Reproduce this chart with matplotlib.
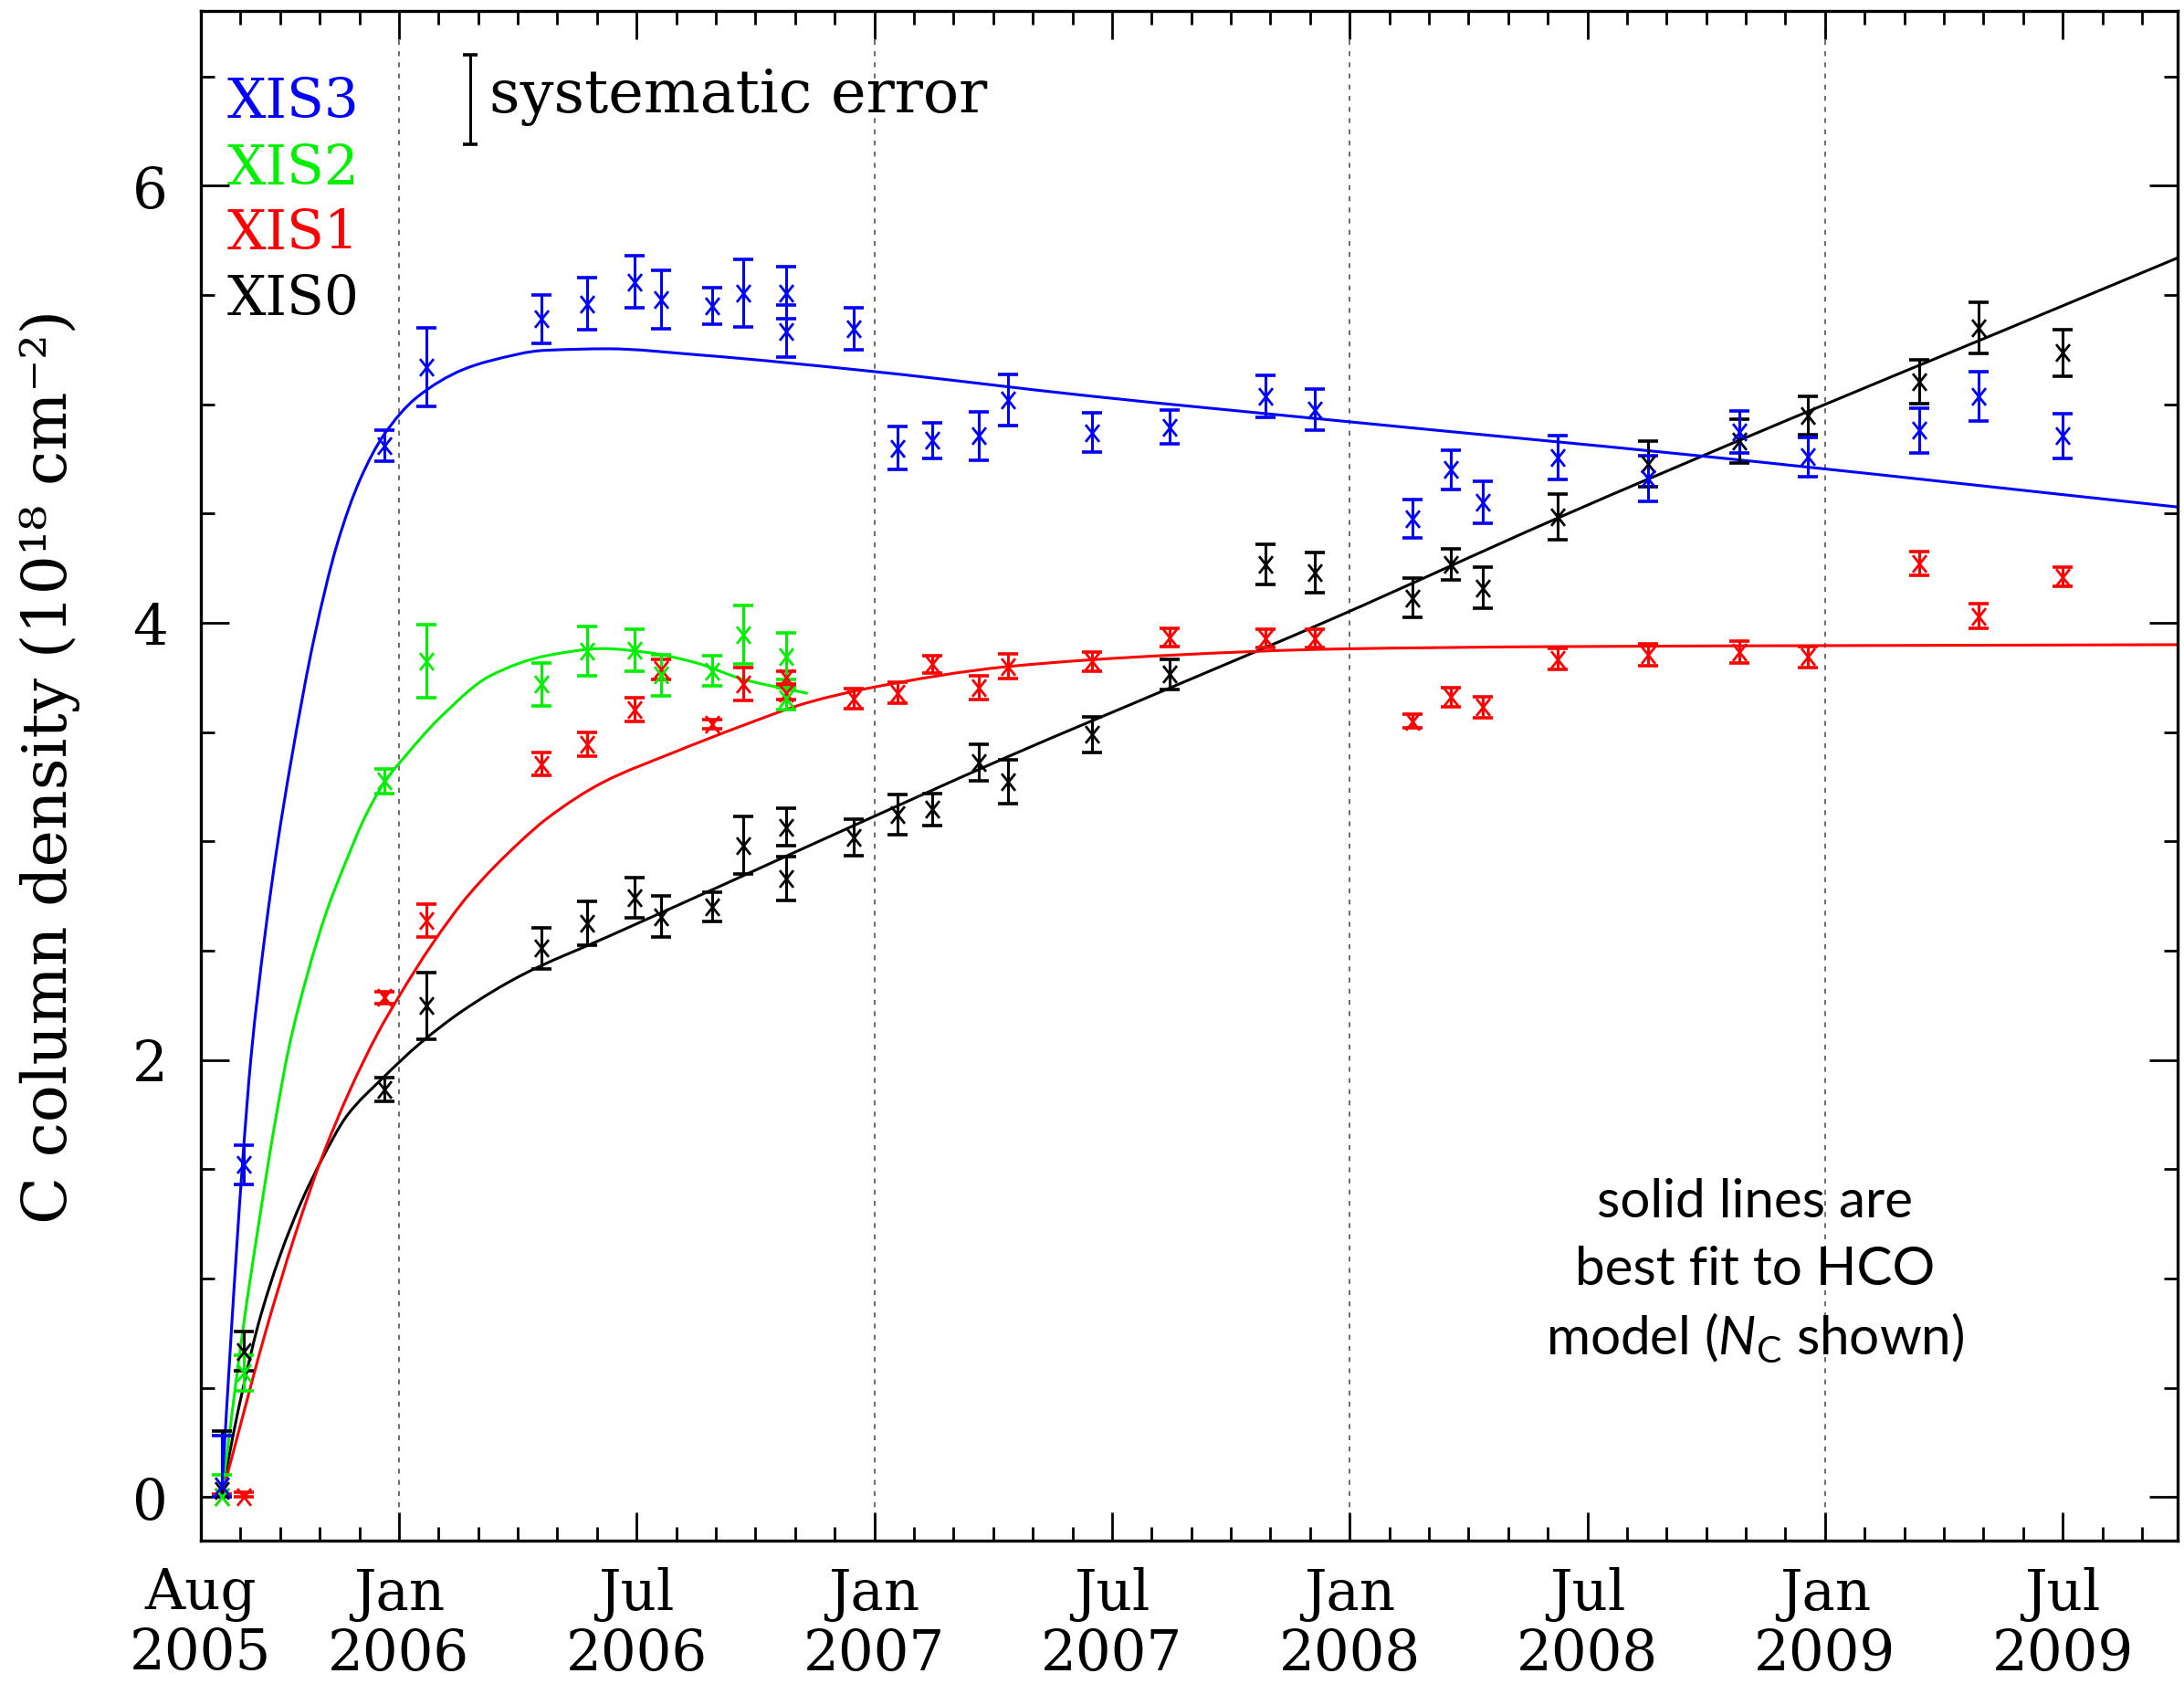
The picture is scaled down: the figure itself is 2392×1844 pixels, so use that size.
import numpy as np
import matplotlib
matplotlib.use("Agg")
import matplotlib.pyplot as plt
from matplotlib.path import Path
from matplotlib.patches import PathPatch

plt.rcParams['font.family'] = ['DejaVu Serif', 'DejaVu Sans']
plt.rcParams['mathtext.fontset'] = 'custom'
plt.rcParams['mathtext.rm'] = 'Lato'
plt.rcParams['mathtext.it'] = 'Lato:italic'

# ---------------- data (time in months since 2005 Aug 1) ----------------
# XIS0 (black)
t_xis0 = [0.52, 1.08, 4.63, 5.69, 8.59, 9.74, 10.94, 11.61, 12.90, 13.70, 14.77, 14.77,
          16.49, 17.58, 18.46, 19.64, 20.38, 22.49, 24.46, 26.88, 28.11, 30.58, 31.55,
          32.36, 34.25, 36.54, 38.84, 40.57, 43.38, 44.88, 46.99]
v_xis0 = [0.03, 0.666, 1.865, 2.248, 2.511, 2.626, 2.742, 2.656, 2.699, 2.982, 3.065, 2.83,
          3.019, 3.123, 3.147, 3.36, 3.273, 3.489, 3.764, 4.269, 4.23, 4.113, 4.268,
          4.16, 4.485, 4.727, 4.83, 4.948, 5.104, 5.35, 5.235]
e_xis0 = [0.27, 0.09, 0.055, 0.153, 0.093, 0.10, 0.093, 0.093, 0.067, 0.13, 0.085, 0.10,
          0.084, 0.093, 0.073, 0.084, 0.10, 0.082, 0.07, 0.092, 0.093, 0.09, 0.07,
          0.094, 0.105, 0.106, 0.10, 0.087, 0.10, 0.118, 0.106]

# XIS1 (red)
t_xis1 = [0.52, 1.08, 4.63, 5.69, 8.59, 9.74, 10.94, 11.61, 12.90, 13.70, 14.77, 14.77,
          16.49, 17.58, 18.46, 19.64, 20.38, 22.49, 24.46, 26.88, 28.11, 30.58, 31.55,
          32.36, 34.25, 36.54, 38.84, 40.57, 43.38, 44.88, 46.99]
v_xis1 = [0.0, 0.0, 2.285, 2.636, 3.354, 3.444, 3.604, 3.787, 3.537, 3.72, 3.75, 3.68,
          3.653, 3.68, 3.81, 3.705, 3.80, 3.823, 3.932, 3.93, 3.93, 3.55, 3.66,
          3.615, 3.834, 3.855, 3.865, 3.844, 4.273, 4.03, 4.21]
e_xis1 = [0.015, 0.02, 0.028, 0.075, 0.053, 0.056, 0.054, 0.045, 0.02, 0.074, 0.028, 0.03,
          0.045, 0.047, 0.04, 0.054, 0.056, 0.044, 0.041, 0.042, 0.042, 0.032, 0.044,
          0.048, 0.049, 0.05, 0.05, 0.047, 0.054, 0.056, 0.043]

# XIS2 (green)
t_xis2 = [0.52, 1.08, 4.63, 5.69, 8.59, 9.74, 10.94, 11.61, 12.90, 13.70, 14.77, 14.77]
v_xis2 = [0.0, 0.567, 3.275, 3.824, 3.719, 3.87, 3.875, 3.76, 3.78, 3.947, 3.847, 3.655]
e_xis2 = [0.10, 0.083, 0.058, 0.166, 0.098, 0.113, 0.095, 0.095, 0.07, 0.134, 0.107, 0.05]

# XIS3 (blue)
t_xis3 = [0.52, 1.08, 4.63, 5.69, 8.59, 9.74, 10.94, 11.61, 12.90, 13.70, 14.77, 14.77,
          16.49, 17.58, 18.46, 19.64, 20.38, 22.49, 24.46, 26.88, 28.11, 30.58, 31.55,
          32.36, 34.25, 36.54, 38.84, 40.57, 43.38, 44.88, 46.99]
v_xis3 = [0.05, 1.52, 4.81, 5.17, 5.39, 5.46, 5.56, 5.48, 5.45, 5.51, 5.51, 5.335,
          5.345, 4.80, 4.835, 4.855, 5.02, 4.87, 4.895, 5.035, 4.975, 4.475, 4.70,
          4.55, 4.755, 4.66, 4.873, 4.76, 4.88, 5.037, 4.855]
e_xis3 = [0.23, 0.09, 0.07, 0.18, 0.11, 0.12, 0.12, 0.135, 0.085, 0.155, 0.12, 0.12,
          0.095, 0.10, 0.082, 0.11, 0.117, 0.09, 0.077, 0.096, 0.095, 0.088, 0.088,
          0.096, 0.10, 0.103, 0.096, 0.09, 0.102, 0.113, 0.102]

# best-fit HCO model curves
fit_t_xis0 = [0.52, 0.80, 1.08, 1.45, 2.0, 2.54, 3.07, 3.69, 4.61, 5.53, 6.61, 8.07, 10.29,
              12.94, 15.6, 20.38, 24.5, 28.61, 34.12, 40.04, 45.32, 49.9]
fit_v_xis0 = [0.0, 0.27, 0.51, 0.79, 1.105, 1.352, 1.55, 1.745, 1.92, 2.075, 2.225, 2.385, 2.565,
              2.781, 3.0, 3.388, 3.705, 4.022, 4.469, 4.927, 5.324, 5.67]
fit_t_xis1 = [0.52, 1.0, 1.61, 2.38, 3.07, 3.76, 4.46, 5.0, 5.84, 6.76, 8.07, 8.74, 10.15,
              11.91, 13.68, 15.32, 16.83, 20.38, 24.5, 28.61, 34.12, 49.9]
fit_v_xis1 = [0.0, 0.33, 0.74, 1.20, 1.56, 1.86, 2.12, 2.29, 2.53, 2.755, 3.0, 3.105, 3.27,
              3.405, 3.53, 3.635, 3.70, 3.80, 3.852, 3.88, 3.891, 3.90]
fit_t_xis2 = [0.52, 1.08, 1.46, 1.85, 2.23, 2.69, 3.16, 3.69, 4.16, 4.65, 5.16, 6.03, 7.33,
              8.74, 10.15, 11.32, 12.5, 13.68, 15.32]
fit_v_xis2 = [0.0, 0.79, 1.25, 1.69, 2.062, 2.392, 2.672, 2.92, 3.118, 3.275, 3.39, 3.565, 3.76,
              3.85, 3.882, 3.863, 3.817, 3.742, 3.677]
fit_t_xis3 = [0.52, 0.78, 1.04, 1.27, 1.61, 1.92, 2.27, 2.86, 3.44, 4.03, 4.62, 5.44, 6.62,
              7.28, 8.69, 10.27, 12.57, 16.98, 22.44, 28.99, 37.84, 49.9]
fit_v_xis3 = [0.0, 0.79, 1.50, 2.02, 2.56, 2.97, 3.36, 3.93, 4.36, 4.66, 4.86, 5.03, 5.159,
              5.198, 5.247, 5.254, 5.226, 5.15, 5.038, 4.92, 4.764, 4.53]

# systematic error bar
syst_t = 6.80
syst_v = 6.395
syst_e = 0.205

major_ticks = [0, 5, 11, 17, 23, 29, 35, 41, 47]
major_labels = ['Aug\n2005', 'Jan\n2006', 'Jul\n2006', 'Jan\n2007', 'Jul\n2007',
                'Jan\n2008', 'Jul\n2008', 'Jan\n2009', 'Jul\n2009']
jan_lines = [5, 17, 29, 41]

series = [
    ('XIS0', t_xis0, v_xis0, e_xis0, fit_t_xis0, fit_v_xis0, '#000000'),
    ('XIS1', t_xis1, v_xis1, e_xis1, fit_t_xis1, fit_v_xis1, '#ff0000'),
    ('XIS2', t_xis2, v_xis2, e_xis2, fit_t_xis2, fit_v_xis2, '#00ee00'),
    ('XIS3', t_xis3, v_xis3, e_xis3, fit_t_xis3, fit_v_xis3, '#0000ff'),
]


def smooth_path(x, y):
    """Bezier path through the read points (monotone Hermite tangents)."""
    x = np.asarray(x, float)
    y = np.asarray(y, float)
    h = np.diff(x)
    d = np.diff(y) / h
    m = np.zeros_like(y)
    m[0], m[-1] = d[0], d[-1]
    for k in range(1, len(x) - 1):
        if d[k - 1] * d[k] <= 0:
            m[k] = 0.0
        else:
            w1 = 2 * h[k] + h[k - 1]
            w2 = h[k] + 2 * h[k - 1]
            m[k] = (w1 + w2) / (w1 / d[k - 1] + w2 / d[k])
    verts = [(x[0], y[0])]
    codes = [Path.MOVETO]
    for k in range(len(x) - 1):
        verts += [(x[k] + h[k] / 3, y[k] + m[k] * h[k] / 3),
                  (x[k + 1] - h[k] / 3, y[k + 1] - m[k + 1] * h[k] / 3),
                  (x[k + 1], y[k + 1])]
        codes += [Path.CURVE4] * 3
    return Path(verts, codes)


# ---------------- figure ----------------
fig = plt.figure(figsize=(23.92, 18.44), dpi=100)
ax = fig.add_axes([220/2392, 1 - 1687/1844, (2385-220)/2392, (1687-12)/1844])

xmark = Path([(-0.8, -1), (0.8, 1), (-0.8, 1), (0.8, -1)],
             [Path.MOVETO, Path.LINETO, Path.MOVETO, Path.LINETO])

for xv in jan_lines:
    ax.axvline(xv, color='#444444', lw=1.1, dashes=(3.5, 4.5), zorder=1)

for name, t, v, e, ft, fv, col in series:
    ax.add_patch(PathPatch(smooth_path(ft, fv), fill=False, edgecolor=col,
                           lw=2.2, zorder=2, clip_on=True))
    va = np.array(v)
    ea = np.array(e)
    yerr = np.vstack([np.minimum(ea, va), ea])
    ax.errorbar(t, va, yerr=yerr, fmt='none', ecolor=col, elinewidth=2.2,
                capsize=8, capthick=2.6, zorder=3)
    ax.plot(t, va, linestyle='none', marker=xmark, ms=13.5, mew=2.0,
            mec=col, mfc='none', zorder=4)

ax.errorbar([syst_t], [syst_v], yerr=[syst_e], fmt='none', ecolor='black',
            elinewidth=2.2, capsize=6, capthick=2.6)

ax.set_xlim(0, 49.9)
ax.set_ylim(-0.2, 6.8)
ax.set_xticks(major_ticks)
ax.set_xticklabels(major_labels, linespacing=1.1)
ax.set_xticks(np.arange(0, 50, 1), minor=True)
ax.set_yticks([0, 2, 4, 6])
ax.set_yticklabels(['0', '2', '4', '6'])
ax.set_yticks(np.arange(0, 6.9, 0.5), minor=True)
ax.tick_params(which='both', direction='in', top=True, right=True, width=2.0,
               labelsize=44)
ax.tick_params(which='major', length=22)
ax.tick_params(which='minor', length=11)
ax.tick_params(axis='x', which='major', pad=21)
ax.tick_params(axis='y', which='major', pad=26)
for s in ax.spines.values():
    s.set_linewidth(2.4)

fig.text(55/2392, 1 - 839/1844, 'C column density (10¹⁸ cm⁻²)', rotation=90,
         ha='center', va='center', fontsize=49)

# legend-like labels
leg = [('XIS3', '#0000ff', 0.930), ('XIS2', '#00ee00', 0.8866),
       ('XIS1', '#ff0000', 0.8442), ('XIS0', '#000000', 0.8012)]
for txt, col, yy in leg:
    ax.text(0.0134, yy, txt, color=col, fontsize=43, transform=ax.transAxes,
            ha='left', va='baseline')
ax.text(0.146, 0.934, 'systematic error', fontsize=47, transform=ax.transAxes,
        ha='left', va='baseline')

# annotation
ann = [('solid lines are', 0.2113), ('best fit to HCO', 0.1672),
       (r'model ($\mathit{N}_{\mathrm{C}}$ shown)', 0.1218)]
for txt, yy in ann:
    ax.text(0.786, yy, txt, fontsize=42, family='Lato', transform=ax.transAxes,
            ha='center', va='baseline')

fig.savefig('out.png', dpi=100)
